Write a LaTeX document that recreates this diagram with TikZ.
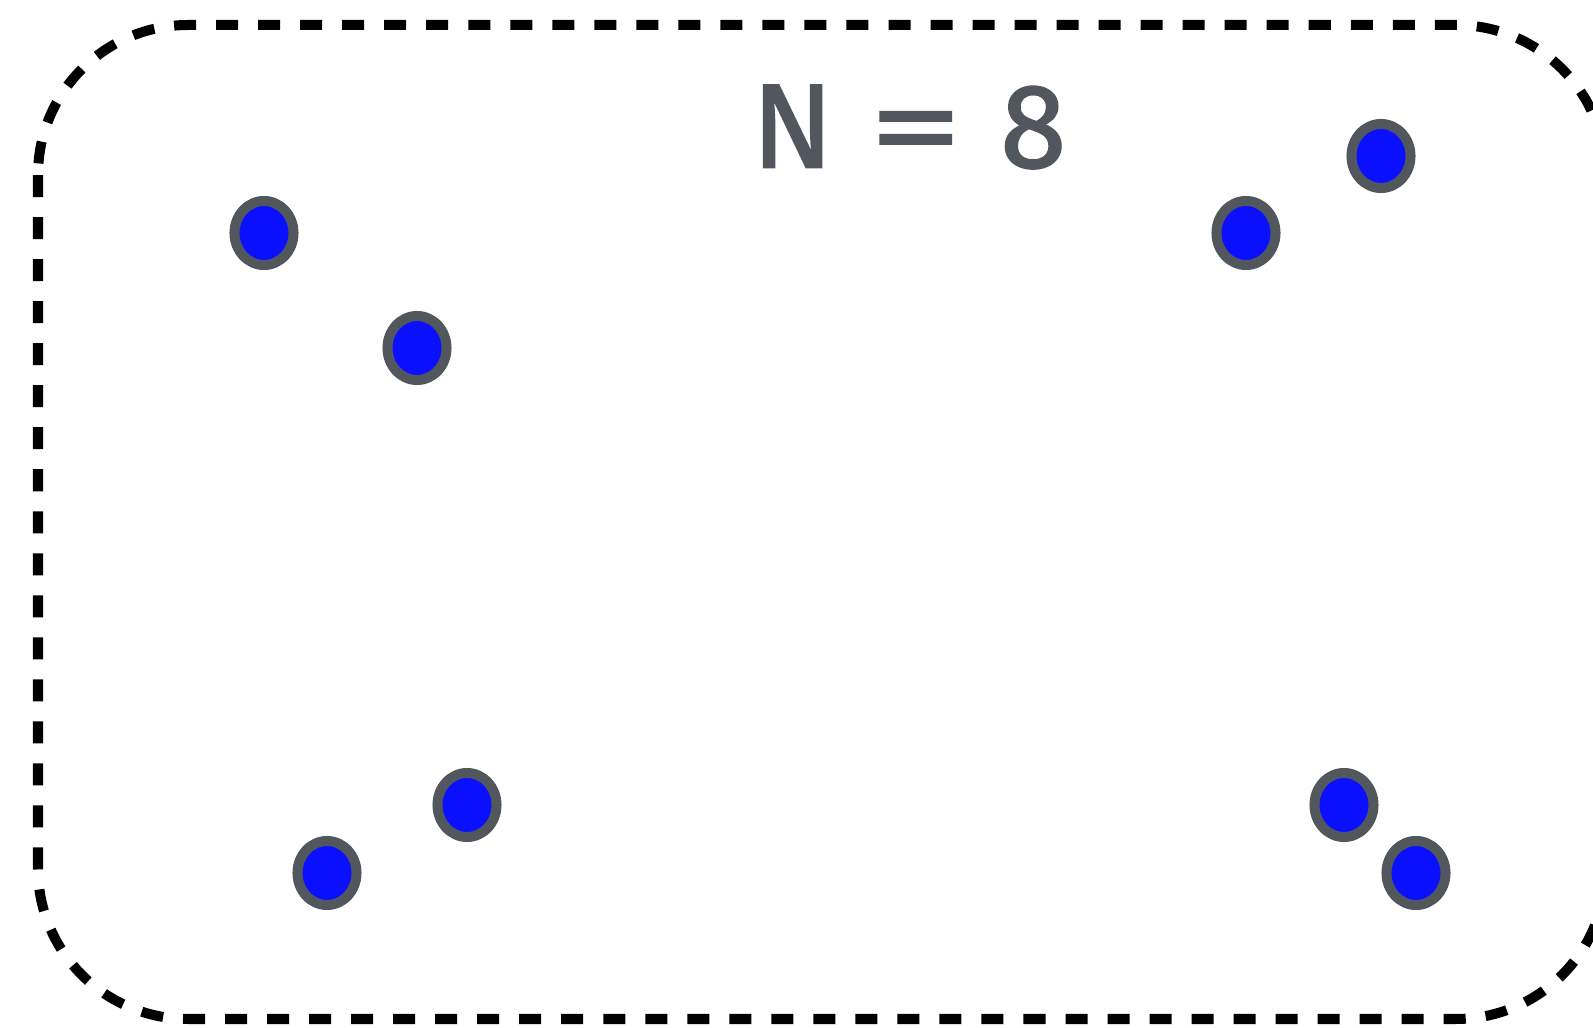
\documentclass[tikz,border=0pt]{standalone}
\usepackage{fontspec}
\newfontfamily\lblfont{Fira Sans}[FakeBold=1.6]
\usepackage{tikz}
\usetikzlibrary{shapes.geometric}
\definecolor{cDotF}{HTML}{0A10FF}
\definecolor{cDotL}{HTML}{52575E}
\definecolor{cText}{HTML}{52575E}

\begin{document}
\begin{tikzpicture}[x=0.01cm,y=-0.01cm,
  bead/.style={ellipse,draw=cDotL,fill=cDotF,line width=0.1cm,inner sep=0pt,
    minimum width=0.59cm,minimum height=0.64cm},
  frame/.style={draw=black,line width=0.1cm,dash pattern=on 0.22cm off 0.2cm,
    rounded corners=1.5cm},
  lbl/.style={font=\lblfont\fontsize{34}{40}\selectfont,text=cText,inner sep=0pt}]

  \useasboundingbox (0,0) rectangle (1593,1028);
  \clip (0,0) rectangle (1593,1028);

  \draw[frame] (38,25) rectangle (1606,1019);

  \node[lbl] (count) at (909,127) {N\hspace{0.3em}\scalebox{1.55}[1]{=}\hspace{0.32em}8};

  \foreach \n/\x/\y in {p1/264/233, p2/417/348, p3/467/805, p4/327/873,
    p5/1246/233, p6/1381/156, p7/1344/805, p8/1416/873}
    {\node[bead] (\n) at (\x,\y) {};}
\end{tikzpicture}
\end{document}
